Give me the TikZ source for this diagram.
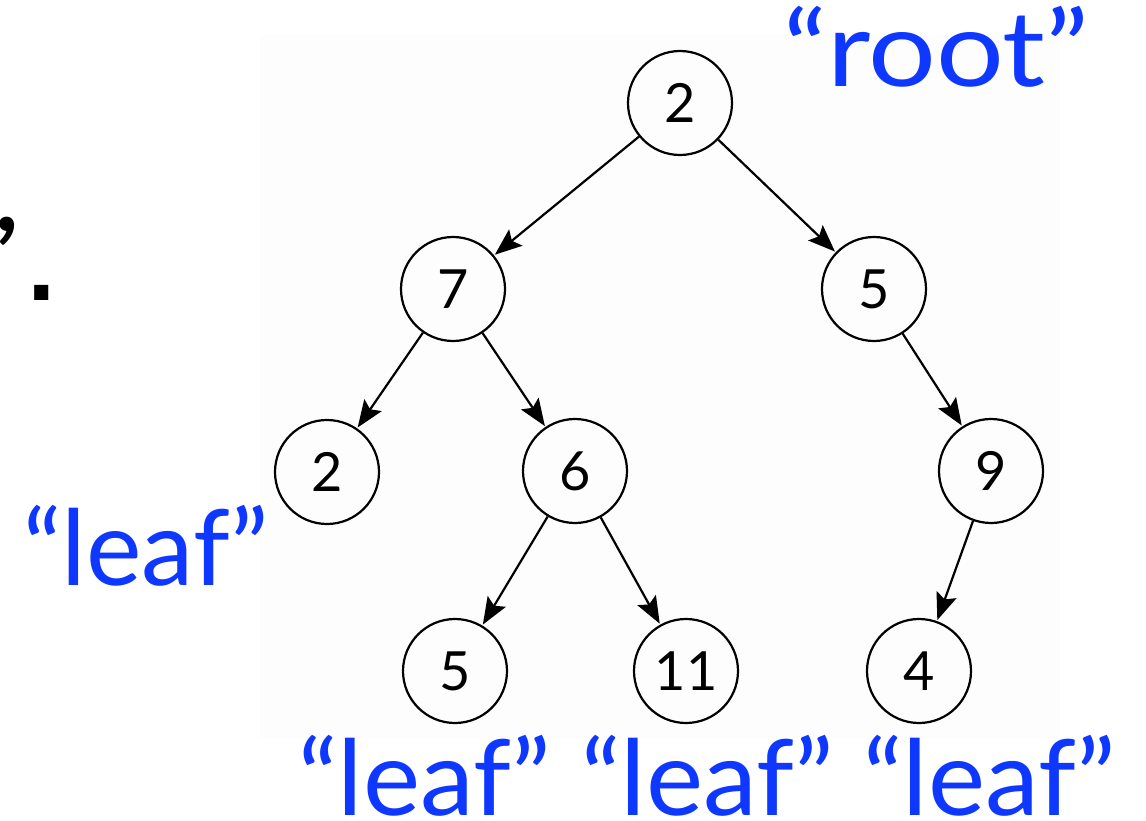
\documentclass[tikz,border=0pt]{standalone}
\usepackage{fontspec}
\setmainfont{Lato}
\newfontfamily\markfont{DejaVu Sans}
\usetikzlibrary{arrows.meta}
\definecolor{labelblue}{RGB}{14,56,255}
\definecolor{panelgrey}{RGB}{253,253,253}
\tikzset{
  treenode/.style={circle, draw=black, line width=2.2pt, minimum size=104pt, inner sep=0pt, font=\fontsize{54}{54}\selectfont},
  edge/.style={line width=2.2pt, -{Stealth[length=27pt,width=21pt,inset=5pt]}, shorten >=1pt},
  bluelabel/.style={text=labelblue, inner sep=0pt, font=\fontsize{105}{105}\selectfont},
  cutmark/.style={text=black, inner sep=0pt, font=\fontsize{100}{100}\selectfont\bfseries}
}
\begin{document}
\begin{tikzpicture}[x=1pt,y=-1pt]
\useasboundingbox (0,0) rectangle (1146,821);
\fill[white] (0,0) rectangle (1146,821);
\fill[panelgrey] (260,35) rectangle (1060,738);
% nodes
\node[treenode] (r)  at (680,103) {2};
\node[treenode] (a)  at (453,289) {7};
\node[treenode] (b)  at (874,289) {5};
\node[treenode] (c)  at (327,472) {2};
\node[treenode] (d)  at (575,471) {6};
\node[treenode] (e)  at (991,471) {9};
\node[treenode] (f)  at (455,671) {5};
\node[treenode] (g)  at (686,671) {11};
\node[treenode] (h)  at (919,671) {4};
% edges
\draw[edge] (r) -- (a);
\draw[edge] (r) -- (b);
\draw[edge] (a) -- (c);
\draw[edge] (a) -- (d);
\draw[edge] (b) -- (e);
\draw[edge] (d) -- (f);
\draw[edge] (d) -- (g);
\draw[edge] (e) -- (h);
% labels
\node[bluelabel, anchor=base west, xscale=1.14, transform shape] (rootlbl) at (783,87) {“root”};
\node[bluelabel, anchor=base west] (leafleft) at (23,585) {“leaf”};
\node[bluelabel, anchor=base west, xscale=1.03, transform shape] (leafone) at (298,815) {“leaf”};
\node[bluelabel, anchor=base west, xscale=1.03, transform shape] (leaftwo) at (581,815) {“leaf”};
\node[bluelabel, anchor=base west, xscale=1.03, transform shape] (leafthree) at (863,815) {“leaf”};
% cut-off marks at left edge
\node[cutmark, anchor=base west] (commamark) at (-5,232) {,};
\node[cutmark, anchor=base west, font=\fontsize{80}{80}\selectfont\markfont\bfseries] (periodmark) at (26,300) {.};
\end{tikzpicture}
\end{document}
